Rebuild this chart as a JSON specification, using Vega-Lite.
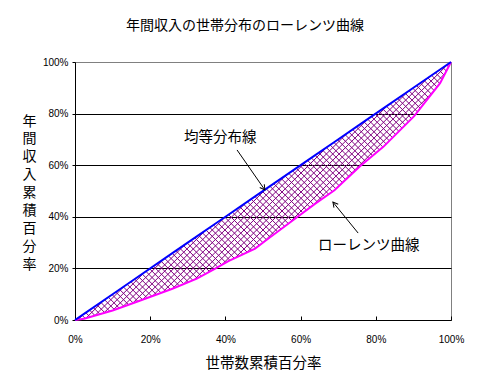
{
"$schema":"https://vega.github.io/schema/vega-lite/v6.json",
"width":376,"height":258,
"autosize":"none",
"padding":{"left":75,"top":62,"right":35,"bottom":64},
"background":"white",
"title":{"text":"年間収入の世帯分布のローレンツ曲線","font":"Noto Sans CJK JP","fontSize":14,"fontWeight":"normal","color":"black","anchor":"middle","offset":24,"dx":-18},
"datasets":{
"lorenz":[
{"hh":0,"lz":0},{"hh":2.4,"lz":0.5},{"hh":10,"lz":3.7},{"hh":16.1,"lz":6.9},{"hh":25.9,"lz":12.1},{"hh":32.4,"lz":16.0},{"hh":37.3,"lz":19.9},{"hh":40.8,"lz":22.8},{"hh":47.9,"lz":27.7},{"hh":51.0,"lz":31.1},{"hh":57.7,"lz":38.4},{"hh":63.9,"lz":45.1},{"hh":69.0,"lz":50.3},{"hh":75.8,"lz":59.6},{"hh":82.0,"lz":67.1},{"hh":90.2,"lz":79.0},{"hh":97.1,"lz":91.8},{"hh":100,"lz":100}],
"labels":[{"x":38.6,"y":70.5,"text":"均等分布線"},{"x":78.1,"y":28.7,"text":"ローレンツ曲線"}],
"arrows":[{"x":43.1,"y":65.9,"x2":50.5,"y2":50.4},{"x":75.3,"y":33.7,"x2":68.6,"y2":45.7}]
},
"layer":[
{"data":{"name":"lorenz"},
"mark":{"type":"area","opacity":1,"fill":{"gradient":"linear","x1":0,"y1":0,"x2":1.146,"y2":0.787,"stops":[
{"offset":0.00,"color":"#80008000"},{"offset":0.0016,"color":"#800080"},{"offset":0.0032,"color":"#80008000"},
{"offset":0.01,"color":"#80008000"},{"offset":0.0116,"color":"#800080"},{"offset":0.0132,"color":"#80008000"},
{"offset":0.02,"color":"#80008000"},{"offset":0.0216,"color":"#800080"},{"offset":0.0232,"color":"#80008000"},
{"offset":0.03,"color":"#80008000"},{"offset":0.0316,"color":"#800080"},{"offset":0.0332,"color":"#80008000"},
{"offset":0.04,"color":"#80008000"},{"offset":0.0416,"color":"#800080"},{"offset":0.0432,"color":"#80008000"},
{"offset":0.05,"color":"#80008000"},{"offset":0.0516,"color":"#800080"},{"offset":0.0532,"color":"#80008000"},
{"offset":0.06,"color":"#80008000"},{"offset":0.0616,"color":"#800080"},{"offset":0.0632,"color":"#80008000"},
{"offset":0.07,"color":"#80008000"},{"offset":0.0716,"color":"#800080"},{"offset":0.0732,"color":"#80008000"},
{"offset":0.08,"color":"#80008000"},{"offset":0.0816,"color":"#800080"},{"offset":0.0832,"color":"#80008000"},
{"offset":0.09,"color":"#80008000"},{"offset":0.0916,"color":"#800080"},{"offset":0.0932,"color":"#80008000"},
{"offset":0.10,"color":"#80008000"},{"offset":0.1016,"color":"#800080"},{"offset":0.1032,"color":"#80008000"},
{"offset":0.11,"color":"#80008000"},{"offset":0.1116,"color":"#800080"},{"offset":0.1132,"color":"#80008000"},
{"offset":0.12,"color":"#80008000"},{"offset":0.1216,"color":"#800080"},{"offset":0.1232,"color":"#80008000"},
{"offset":0.13,"color":"#80008000"},{"offset":0.1316,"color":"#800080"},{"offset":0.1332,"color":"#80008000"},
{"offset":0.14,"color":"#80008000"},{"offset":0.1416,"color":"#800080"},{"offset":0.1432,"color":"#80008000"},
{"offset":0.15,"color":"#80008000"},{"offset":0.1516,"color":"#800080"},{"offset":0.1532,"color":"#80008000"},
{"offset":0.16,"color":"#80008000"},{"offset":0.1616,"color":"#800080"},{"offset":0.1632,"color":"#80008000"},
{"offset":0.17,"color":"#80008000"},{"offset":0.1716,"color":"#800080"},{"offset":0.1732,"color":"#80008000"},
{"offset":0.18,"color":"#80008000"},{"offset":0.1816,"color":"#800080"},{"offset":0.1832,"color":"#80008000"},
{"offset":0.19,"color":"#80008000"},{"offset":0.1916,"color":"#800080"},{"offset":0.1932,"color":"#80008000"},
{"offset":0.20,"color":"#80008000"},{"offset":0.2016,"color":"#800080"},{"offset":0.2032,"color":"#80008000"},
{"offset":0.21,"color":"#80008000"},{"offset":0.2116,"color":"#800080"},{"offset":0.2132,"color":"#80008000"},
{"offset":0.22,"color":"#80008000"},{"offset":0.2216,"color":"#800080"},{"offset":0.2232,"color":"#80008000"},
{"offset":0.23,"color":"#80008000"},{"offset":0.2316,"color":"#800080"},{"offset":0.2332,"color":"#80008000"},
{"offset":0.24,"color":"#80008000"},{"offset":0.2416,"color":"#800080"},{"offset":0.2432,"color":"#80008000"},
{"offset":0.25,"color":"#80008000"},{"offset":0.2516,"color":"#800080"},{"offset":0.2532,"color":"#80008000"},
{"offset":0.26,"color":"#80008000"},{"offset":0.2616,"color":"#800080"},{"offset":0.2632,"color":"#80008000"},
{"offset":0.27,"color":"#80008000"},{"offset":0.2716,"color":"#800080"},{"offset":0.2732,"color":"#80008000"},
{"offset":0.28,"color":"#80008000"},{"offset":0.2816,"color":"#800080"},{"offset":0.2832,"color":"#80008000"},
{"offset":0.29,"color":"#80008000"},{"offset":0.2916,"color":"#800080"},{"offset":0.2932,"color":"#80008000"},
{"offset":0.30,"color":"#80008000"},{"offset":0.3016,"color":"#800080"},{"offset":0.3032,"color":"#80008000"},
{"offset":0.31,"color":"#80008000"},{"offset":0.3116,"color":"#800080"},{"offset":0.3132,"color":"#80008000"},
{"offset":0.32,"color":"#80008000"},{"offset":0.3216,"color":"#800080"},{"offset":0.3232,"color":"#80008000"},
{"offset":0.33,"color":"#80008000"},{"offset":0.3316,"color":"#800080"},{"offset":0.3332,"color":"#80008000"},
{"offset":0.34,"color":"#80008000"},{"offset":0.3416,"color":"#800080"},{"offset":0.3432,"color":"#80008000"},
{"offset":0.35,"color":"#80008000"},{"offset":0.3516,"color":"#800080"},{"offset":0.3532,"color":"#80008000"},
{"offset":0.36,"color":"#80008000"},{"offset":0.3616,"color":"#800080"},{"offset":0.3632,"color":"#80008000"},
{"offset":0.37,"color":"#80008000"},{"offset":0.3716,"color":"#800080"},{"offset":0.3732,"color":"#80008000"},
{"offset":0.38,"color":"#80008000"},{"offset":0.3816,"color":"#800080"},{"offset":0.3832,"color":"#80008000"},
{"offset":0.39,"color":"#80008000"},{"offset":0.3916,"color":"#800080"},{"offset":0.3932,"color":"#80008000"},
{"offset":0.40,"color":"#80008000"},{"offset":0.4016,"color":"#800080"},{"offset":0.4032,"color":"#80008000"},
{"offset":0.41,"color":"#80008000"},{"offset":0.4116,"color":"#800080"},{"offset":0.4132,"color":"#80008000"},
{"offset":0.42,"color":"#80008000"},{"offset":0.4216,"color":"#800080"},{"offset":0.4232,"color":"#80008000"},
{"offset":0.43,"color":"#80008000"},{"offset":0.4316,"color":"#800080"},{"offset":0.4332,"color":"#80008000"},
{"offset":0.44,"color":"#80008000"},{"offset":0.4416,"color":"#800080"},{"offset":0.4432,"color":"#80008000"},
{"offset":0.45,"color":"#80008000"},{"offset":0.4516,"color":"#800080"},{"offset":0.4532,"color":"#80008000"},
{"offset":0.46,"color":"#80008000"},{"offset":0.4616,"color":"#800080"},{"offset":0.4632,"color":"#80008000"},
{"offset":0.47,"color":"#80008000"},{"offset":0.4716,"color":"#800080"},{"offset":0.4732,"color":"#80008000"},
{"offset":0.48,"color":"#80008000"},{"offset":0.4816,"color":"#800080"},{"offset":0.4832,"color":"#80008000"},
{"offset":0.49,"color":"#80008000"},{"offset":0.4916,"color":"#800080"},{"offset":0.4932,"color":"#80008000"},
{"offset":0.50,"color":"#80008000"},{"offset":0.5016,"color":"#800080"},{"offset":0.5032,"color":"#80008000"},
{"offset":0.51,"color":"#80008000"},{"offset":0.5116,"color":"#800080"},{"offset":0.5132,"color":"#80008000"},
{"offset":0.52,"color":"#80008000"},{"offset":0.5216,"color":"#800080"},{"offset":0.5232,"color":"#80008000"},
{"offset":0.53,"color":"#80008000"},{"offset":0.5316,"color":"#800080"},{"offset":0.5332,"color":"#80008000"},
{"offset":0.54,"color":"#80008000"},{"offset":0.5416,"color":"#800080"},{"offset":0.5432,"color":"#80008000"},
{"offset":0.55,"color":"#80008000"},{"offset":0.5516,"color":"#800080"},{"offset":0.5532,"color":"#80008000"},
{"offset":0.56,"color":"#80008000"},{"offset":0.5616,"color":"#800080"},{"offset":0.5632,"color":"#80008000"},
{"offset":0.57,"color":"#80008000"},{"offset":0.5716,"color":"#800080"},{"offset":0.5732,"color":"#80008000"},
{"offset":0.58,"color":"#80008000"},{"offset":0.5816,"color":"#800080"},{"offset":0.5832,"color":"#80008000"},
{"offset":0.59,"color":"#80008000"},{"offset":0.5916,"color":"#800080"},{"offset":0.5932,"color":"#80008000"},
{"offset":0.60,"color":"#80008000"},{"offset":0.6016,"color":"#800080"},{"offset":0.6032,"color":"#80008000"},
{"offset":0.61,"color":"#80008000"},{"offset":0.6116,"color":"#800080"},{"offset":0.6132,"color":"#80008000"},
{"offset":0.62,"color":"#80008000"},{"offset":0.6216,"color":"#800080"},{"offset":0.6232,"color":"#80008000"},
{"offset":0.63,"color":"#80008000"},{"offset":0.6316,"color":"#800080"},{"offset":0.6332,"color":"#80008000"},
{"offset":0.64,"color":"#80008000"},{"offset":0.6416,"color":"#800080"},{"offset":0.6432,"color":"#80008000"},
{"offset":0.65,"color":"#80008000"},{"offset":0.6516,"color":"#800080"},{"offset":0.6532,"color":"#80008000"},
{"offset":0.66,"color":"#80008000"},{"offset":0.6616,"color":"#800080"},{"offset":0.6632,"color":"#80008000"},
{"offset":0.67,"color":"#80008000"},{"offset":0.6716,"color":"#800080"},{"offset":0.6732,"color":"#80008000"},
{"offset":0.68,"color":"#80008000"},{"offset":0.6816,"color":"#800080"},{"offset":0.6832,"color":"#80008000"},
{"offset":0.69,"color":"#80008000"},{"offset":0.6916,"color":"#800080"},{"offset":0.6932,"color":"#80008000"},
{"offset":0.70,"color":"#80008000"},{"offset":0.7016,"color":"#800080"},{"offset":0.7032,"color":"#80008000"},
{"offset":0.71,"color":"#80008000"},{"offset":0.7116,"color":"#800080"},{"offset":0.7132,"color":"#80008000"},
{"offset":0.72,"color":"#80008000"},{"offset":0.7216,"color":"#800080"},{"offset":0.7232,"color":"#80008000"},
{"offset":0.73,"color":"#80008000"},{"offset":0.7316,"color":"#800080"},{"offset":0.7332,"color":"#80008000"},
{"offset":0.74,"color":"#80008000"},{"offset":0.7416,"color":"#800080"},{"offset":0.7432,"color":"#80008000"},
{"offset":0.75,"color":"#80008000"},{"offset":0.7516,"color":"#800080"},{"offset":0.7532,"color":"#80008000"},
{"offset":0.76,"color":"#80008000"},{"offset":0.7616,"color":"#800080"},{"offset":0.7632,"color":"#80008000"},
{"offset":0.77,"color":"#80008000"},{"offset":0.7716,"color":"#800080"},{"offset":0.7732,"color":"#80008000"},
{"offset":0.78,"color":"#80008000"},{"offset":0.7816,"color":"#800080"},{"offset":0.7832,"color":"#80008000"},
{"offset":0.79,"color":"#80008000"},{"offset":0.7916,"color":"#800080"},{"offset":0.7932,"color":"#80008000"},
{"offset":0.80,"color":"#80008000"},{"offset":0.8016,"color":"#800080"},{"offset":0.8032,"color":"#80008000"},
{"offset":0.81,"color":"#80008000"},{"offset":0.8116,"color":"#800080"},{"offset":0.8132,"color":"#80008000"},
{"offset":0.82,"color":"#80008000"},{"offset":0.8216,"color":"#800080"},{"offset":0.8232,"color":"#80008000"},
{"offset":0.83,"color":"#80008000"},{"offset":0.8316,"color":"#800080"},{"offset":0.8332,"color":"#80008000"},
{"offset":0.84,"color":"#80008000"},{"offset":0.8416,"color":"#800080"},{"offset":0.8432,"color":"#80008000"},
{"offset":0.85,"color":"#80008000"},{"offset":0.8516,"color":"#800080"},{"offset":0.8532,"color":"#80008000"},
{"offset":0.86,"color":"#80008000"},{"offset":0.8616,"color":"#800080"},{"offset":0.8632,"color":"#80008000"},
{"offset":0.87,"color":"#80008000"},{"offset":0.8716,"color":"#800080"},{"offset":0.8732,"color":"#80008000"},
{"offset":0.88,"color":"#80008000"},{"offset":0.8816,"color":"#800080"},{"offset":0.8832,"color":"#80008000"},
{"offset":0.89,"color":"#80008000"},{"offset":0.8916,"color":"#800080"},{"offset":0.8932,"color":"#80008000"},
{"offset":0.90,"color":"#80008000"},{"offset":0.9016,"color":"#800080"},{"offset":0.9032,"color":"#80008000"},
{"offset":0.91,"color":"#80008000"},{"offset":0.9116,"color":"#800080"},{"offset":0.9132,"color":"#80008000"},
{"offset":0.92,"color":"#80008000"},{"offset":0.9216,"color":"#800080"},{"offset":0.9232,"color":"#80008000"},
{"offset":0.93,"color":"#80008000"},{"offset":0.9316,"color":"#800080"},{"offset":0.9332,"color":"#80008000"},
{"offset":0.94,"color":"#80008000"},{"offset":0.9416,"color":"#800080"},{"offset":0.9432,"color":"#80008000"},
{"offset":0.95,"color":"#80008000"},{"offset":0.9516,"color":"#800080"},{"offset":0.9532,"color":"#80008000"},
{"offset":0.96,"color":"#80008000"},{"offset":0.9616,"color":"#800080"},{"offset":0.9632,"color":"#80008000"},
{"offset":0.97,"color":"#80008000"},{"offset":0.9716,"color":"#800080"},{"offset":0.9732,"color":"#80008000"},
{"offset":0.98,"color":"#80008000"},{"offset":0.9816,"color":"#800080"},{"offset":0.9832,"color":"#80008000"},
{"offset":0.99,"color":"#80008000"},{"offset":0.9916,"color":"#800080"},{"offset":0.9932,"color":"#80008000"}]}},
"encoding":{
"x":{"field":"hh","type":"quantitative","scale":{"domain":[0,100],"nice":false},
"axis":{"title":"世帯数累積百分率","values":[0,20,40,60,80,100],"labelExpr":"datum.value + '%'","grid":false,"domainColor":"black","tickColor":"black","tickSize":-4,"labelPadding":18,"labelFont":"Liberation Sans","labelFontSize":10,"labelColor":"black","labelFlush":false,"titleFont":"Noto Sans CJK JP","titleFontSize":14.5,"titleFontWeight":"normal","titleColor":"black","titleBaseline":"alphabetic","titleY":47}},
"y":{"field":"hh","type":"quantitative","scale":{"domain":[0,100],"nice":false},
"axis":{"title":["年","間","収","入","累","積","百","分","率"],"titleAngle":0,"titleX":-46,"titleY":63,"titleAlign":"center","titleBaseline":"alphabetic","titleLineHeight":17.9,"titleFont":"Noto Sans CJK JP","titleFontSize":14,"titleFontWeight":"normal","titleColor":"black","values":[0,20,40,60,80,100],"labelExpr":"datum.value + '%'","grid":true,"gridColor":{"condition":{"test":"datum.value === 100 || datum.value === 0","value":"transparent"},"value":"black"},"gridOpacity":1,"domainColor":"black","tickColor":"black","tickSize":3,"labelPadding":4,"labelFont":"Liberation Sans","labelFontSize":10,"labelColor":"black","labelFlush":false}},
"y2":{"field":"lz"}}},
{"data":{"name":"lorenz"},
"mark":{"type":"area","opacity":1,"fill":{"gradient":"linear","x1":1,"y1":0,"x2":-0.146,"y2":0.787,"stops":[
{"offset":0.00,"color":"#80008000"},{"offset":0.0016,"color":"#800080"},{"offset":0.0032,"color":"#80008000"},
{"offset":0.01,"color":"#80008000"},{"offset":0.0116,"color":"#800080"},{"offset":0.0132,"color":"#80008000"},
{"offset":0.02,"color":"#80008000"},{"offset":0.0216,"color":"#800080"},{"offset":0.0232,"color":"#80008000"},
{"offset":0.03,"color":"#80008000"},{"offset":0.0316,"color":"#800080"},{"offset":0.0332,"color":"#80008000"},
{"offset":0.04,"color":"#80008000"},{"offset":0.0416,"color":"#800080"},{"offset":0.0432,"color":"#80008000"},
{"offset":0.05,"color":"#80008000"},{"offset":0.0516,"color":"#800080"},{"offset":0.0532,"color":"#80008000"},
{"offset":0.06,"color":"#80008000"},{"offset":0.0616,"color":"#800080"},{"offset":0.0632,"color":"#80008000"},
{"offset":0.07,"color":"#80008000"},{"offset":0.0716,"color":"#800080"},{"offset":0.0732,"color":"#80008000"},
{"offset":0.08,"color":"#80008000"},{"offset":0.0816,"color":"#800080"},{"offset":0.0832,"color":"#80008000"},
{"offset":0.09,"color":"#80008000"},{"offset":0.0916,"color":"#800080"},{"offset":0.0932,"color":"#80008000"},
{"offset":0.10,"color":"#80008000"},{"offset":0.1016,"color":"#800080"},{"offset":0.1032,"color":"#80008000"},
{"offset":0.11,"color":"#80008000"},{"offset":0.1116,"color":"#800080"},{"offset":0.1132,"color":"#80008000"},
{"offset":0.12,"color":"#80008000"},{"offset":0.1216,"color":"#800080"},{"offset":0.1232,"color":"#80008000"},
{"offset":0.13,"color":"#80008000"},{"offset":0.1316,"color":"#800080"},{"offset":0.1332,"color":"#80008000"},
{"offset":0.14,"color":"#80008000"},{"offset":0.1416,"color":"#800080"},{"offset":0.1432,"color":"#80008000"},
{"offset":0.15,"color":"#80008000"},{"offset":0.1516,"color":"#800080"},{"offset":0.1532,"color":"#80008000"},
{"offset":0.16,"color":"#80008000"},{"offset":0.1616,"color":"#800080"},{"offset":0.1632,"color":"#80008000"},
{"offset":0.17,"color":"#80008000"},{"offset":0.1716,"color":"#800080"},{"offset":0.1732,"color":"#80008000"},
{"offset":0.18,"color":"#80008000"},{"offset":0.1816,"color":"#800080"},{"offset":0.1832,"color":"#80008000"},
{"offset":0.19,"color":"#80008000"},{"offset":0.1916,"color":"#800080"},{"offset":0.1932,"color":"#80008000"},
{"offset":0.20,"color":"#80008000"},{"offset":0.2016,"color":"#800080"},{"offset":0.2032,"color":"#80008000"},
{"offset":0.21,"color":"#80008000"},{"offset":0.2116,"color":"#800080"},{"offset":0.2132,"color":"#80008000"},
{"offset":0.22,"color":"#80008000"},{"offset":0.2216,"color":"#800080"},{"offset":0.2232,"color":"#80008000"},
{"offset":0.23,"color":"#80008000"},{"offset":0.2316,"color":"#800080"},{"offset":0.2332,"color":"#80008000"},
{"offset":0.24,"color":"#80008000"},{"offset":0.2416,"color":"#800080"},{"offset":0.2432,"color":"#80008000"},
{"offset":0.25,"color":"#80008000"},{"offset":0.2516,"color":"#800080"},{"offset":0.2532,"color":"#80008000"},
{"offset":0.26,"color":"#80008000"},{"offset":0.2616,"color":"#800080"},{"offset":0.2632,"color":"#80008000"},
{"offset":0.27,"color":"#80008000"},{"offset":0.2716,"color":"#800080"},{"offset":0.2732,"color":"#80008000"},
{"offset":0.28,"color":"#80008000"},{"offset":0.2816,"color":"#800080"},{"offset":0.2832,"color":"#80008000"},
{"offset":0.29,"color":"#80008000"},{"offset":0.2916,"color":"#800080"},{"offset":0.2932,"color":"#80008000"},
{"offset":0.30,"color":"#80008000"},{"offset":0.3016,"color":"#800080"},{"offset":0.3032,"color":"#80008000"},
{"offset":0.31,"color":"#80008000"},{"offset":0.3116,"color":"#800080"},{"offset":0.3132,"color":"#80008000"},
{"offset":0.32,"color":"#80008000"},{"offset":0.3216,"color":"#800080"},{"offset":0.3232,"color":"#80008000"},
{"offset":0.33,"color":"#80008000"},{"offset":0.3316,"color":"#800080"},{"offset":0.3332,"color":"#80008000"},
{"offset":0.34,"color":"#80008000"},{"offset":0.3416,"color":"#800080"},{"offset":0.3432,"color":"#80008000"},
{"offset":0.35,"color":"#80008000"},{"offset":0.3516,"color":"#800080"},{"offset":0.3532,"color":"#80008000"},
{"offset":0.36,"color":"#80008000"},{"offset":0.3616,"color":"#800080"},{"offset":0.3632,"color":"#80008000"},
{"offset":0.37,"color":"#80008000"},{"offset":0.3716,"color":"#800080"},{"offset":0.3732,"color":"#80008000"},
{"offset":0.38,"color":"#80008000"},{"offset":0.3816,"color":"#800080"},{"offset":0.3832,"color":"#80008000"},
{"offset":0.39,"color":"#80008000"},{"offset":0.3916,"color":"#800080"},{"offset":0.3932,"color":"#80008000"},
{"offset":0.40,"color":"#80008000"},{"offset":0.4016,"color":"#800080"},{"offset":0.4032,"color":"#80008000"},
{"offset":0.41,"color":"#80008000"},{"offset":0.4116,"color":"#800080"},{"offset":0.4132,"color":"#80008000"},
{"offset":0.42,"color":"#80008000"},{"offset":0.4216,"color":"#800080"},{"offset":0.4232,"color":"#80008000"},
{"offset":0.43,"color":"#80008000"},{"offset":0.4316,"color":"#800080"},{"offset":0.4332,"color":"#80008000"},
{"offset":0.44,"color":"#80008000"},{"offset":0.4416,"color":"#800080"},{"offset":0.4432,"color":"#80008000"},
{"offset":0.45,"color":"#80008000"},{"offset":0.4516,"color":"#800080"},{"offset":0.4532,"color":"#80008000"},
{"offset":0.46,"color":"#80008000"},{"offset":0.4616,"color":"#800080"},{"offset":0.4632,"color":"#80008000"},
{"offset":0.47,"color":"#80008000"},{"offset":0.4716,"color":"#800080"},{"offset":0.4732,"color":"#80008000"},
{"offset":0.48,"color":"#80008000"},{"offset":0.4816,"color":"#800080"},{"offset":0.4832,"color":"#80008000"},
{"offset":0.49,"color":"#80008000"},{"offset":0.4916,"color":"#800080"},{"offset":0.4932,"color":"#80008000"},
{"offset":0.50,"color":"#80008000"},{"offset":0.5016,"color":"#800080"},{"offset":0.5032,"color":"#80008000"},
{"offset":0.51,"color":"#80008000"},{"offset":0.5116,"color":"#800080"},{"offset":0.5132,"color":"#80008000"},
{"offset":0.52,"color":"#80008000"},{"offset":0.5216,"color":"#800080"},{"offset":0.5232,"color":"#80008000"},
{"offset":0.53,"color":"#80008000"},{"offset":0.5316,"color":"#800080"},{"offset":0.5332,"color":"#80008000"},
{"offset":0.54,"color":"#80008000"},{"offset":0.5416,"color":"#800080"},{"offset":0.5432,"color":"#80008000"},
{"offset":0.55,"color":"#80008000"},{"offset":0.5516,"color":"#800080"},{"offset":0.5532,"color":"#80008000"},
{"offset":0.56,"color":"#80008000"},{"offset":0.5616,"color":"#800080"},{"offset":0.5632,"color":"#80008000"},
{"offset":0.57,"color":"#80008000"},{"offset":0.5716,"color":"#800080"},{"offset":0.5732,"color":"#80008000"},
{"offset":0.58,"color":"#80008000"},{"offset":0.5816,"color":"#800080"},{"offset":0.5832,"color":"#80008000"},
{"offset":0.59,"color":"#80008000"},{"offset":0.5916,"color":"#800080"},{"offset":0.5932,"color":"#80008000"},
{"offset":0.60,"color":"#80008000"},{"offset":0.6016,"color":"#800080"},{"offset":0.6032,"color":"#80008000"},
{"offset":0.61,"color":"#80008000"},{"offset":0.6116,"color":"#800080"},{"offset":0.6132,"color":"#80008000"},
{"offset":0.62,"color":"#80008000"},{"offset":0.6216,"color":"#800080"},{"offset":0.6232,"color":"#80008000"},
{"offset":0.63,"color":"#80008000"},{"offset":0.6316,"color":"#800080"},{"offset":0.6332,"color":"#80008000"},
{"offset":0.64,"color":"#80008000"},{"offset":0.6416,"color":"#800080"},{"offset":0.6432,"color":"#80008000"},
{"offset":0.65,"color":"#80008000"},{"offset":0.6516,"color":"#800080"},{"offset":0.6532,"color":"#80008000"},
{"offset":0.66,"color":"#80008000"},{"offset":0.6616,"color":"#800080"},{"offset":0.6632,"color":"#80008000"},
{"offset":0.67,"color":"#80008000"},{"offset":0.6716,"color":"#800080"},{"offset":0.6732,"color":"#80008000"},
{"offset":0.68,"color":"#80008000"},{"offset":0.6816,"color":"#800080"},{"offset":0.6832,"color":"#80008000"},
{"offset":0.69,"color":"#80008000"},{"offset":0.6916,"color":"#800080"},{"offset":0.6932,"color":"#80008000"},
{"offset":0.70,"color":"#80008000"},{"offset":0.7016,"color":"#800080"},{"offset":0.7032,"color":"#80008000"},
{"offset":0.71,"color":"#80008000"},{"offset":0.7116,"color":"#800080"},{"offset":0.7132,"color":"#80008000"},
{"offset":0.72,"color":"#80008000"},{"offset":0.7216,"color":"#800080"},{"offset":0.7232,"color":"#80008000"},
{"offset":0.73,"color":"#80008000"},{"offset":0.7316,"color":"#800080"},{"offset":0.7332,"color":"#80008000"},
{"offset":0.74,"color":"#80008000"},{"offset":0.7416,"color":"#800080"},{"offset":0.7432,"color":"#80008000"},
{"offset":0.75,"color":"#80008000"},{"offset":0.7516,"color":"#800080"},{"offset":0.7532,"color":"#80008000"},
{"offset":0.76,"color":"#80008000"},{"offset":0.7616,"color":"#800080"},{"offset":0.7632,"color":"#80008000"},
{"offset":0.77,"color":"#80008000"},{"offset":0.7716,"color":"#800080"},{"offset":0.7732,"color":"#80008000"},
{"offset":0.78,"color":"#80008000"},{"offset":0.7816,"color":"#800080"},{"offset":0.7832,"color":"#80008000"},
{"offset":0.79,"color":"#80008000"},{"offset":0.7916,"color":"#800080"},{"offset":0.7932,"color":"#80008000"},
{"offset":0.80,"color":"#80008000"},{"offset":0.8016,"color":"#800080"},{"offset":0.8032,"color":"#80008000"},
{"offset":0.81,"color":"#80008000"},{"offset":0.8116,"color":"#800080"},{"offset":0.8132,"color":"#80008000"},
{"offset":0.82,"color":"#80008000"},{"offset":0.8216,"color":"#800080"},{"offset":0.8232,"color":"#80008000"},
{"offset":0.83,"color":"#80008000"},{"offset":0.8316,"color":"#800080"},{"offset":0.8332,"color":"#80008000"},
{"offset":0.84,"color":"#80008000"},{"offset":0.8416,"color":"#800080"},{"offset":0.8432,"color":"#80008000"},
{"offset":0.85,"color":"#80008000"},{"offset":0.8516,"color":"#800080"},{"offset":0.8532,"color":"#80008000"},
{"offset":0.86,"color":"#80008000"},{"offset":0.8616,"color":"#800080"},{"offset":0.8632,"color":"#80008000"},
{"offset":0.87,"color":"#80008000"},{"offset":0.8716,"color":"#800080"},{"offset":0.8732,"color":"#80008000"},
{"offset":0.88,"color":"#80008000"},{"offset":0.8816,"color":"#800080"},{"offset":0.8832,"color":"#80008000"},
{"offset":0.89,"color":"#80008000"},{"offset":0.8916,"color":"#800080"},{"offset":0.8932,"color":"#80008000"},
{"offset":0.90,"color":"#80008000"},{"offset":0.9016,"color":"#800080"},{"offset":0.9032,"color":"#80008000"},
{"offset":0.91,"color":"#80008000"},{"offset":0.9116,"color":"#800080"},{"offset":0.9132,"color":"#80008000"},
{"offset":0.92,"color":"#80008000"},{"offset":0.9216,"color":"#800080"},{"offset":0.9232,"color":"#80008000"},
{"offset":0.93,"color":"#80008000"},{"offset":0.9316,"color":"#800080"},{"offset":0.9332,"color":"#80008000"},
{"offset":0.94,"color":"#80008000"},{"offset":0.9416,"color":"#800080"},{"offset":0.9432,"color":"#80008000"},
{"offset":0.95,"color":"#80008000"},{"offset":0.9516,"color":"#800080"},{"offset":0.9532,"color":"#80008000"},
{"offset":0.96,"color":"#80008000"},{"offset":0.9616,"color":"#800080"},{"offset":0.9632,"color":"#80008000"},
{"offset":0.97,"color":"#80008000"},{"offset":0.9716,"color":"#800080"},{"offset":0.9732,"color":"#80008000"},
{"offset":0.98,"color":"#80008000"},{"offset":0.9816,"color":"#800080"},{"offset":0.9832,"color":"#80008000"},
{"offset":0.99,"color":"#80008000"},{"offset":0.9916,"color":"#800080"},{"offset":0.9932,"color":"#80008000"}]}},
"encoding":{"x":{"field":"hh","type":"quantitative"},"y":{"field":"hh","type":"quantitative"},"y2":{"field":"lz"}}},
{"data":{"name":"lorenz"},"mark":{"type":"line","color":"#FF00FF","strokeWidth":2},
"encoding":{"x":{"field":"hh","type":"quantitative"},"y":{"field":"lz","type":"quantitative"}}},
{"data":{"name":"lorenz"},"mark":{"type":"line","color":"#0000FF","strokeWidth":2},
"encoding":{"x":{"field":"hh","type":"quantitative"},"y":{"field":"hh","type":"quantitative"}}},
{"data":{"name":"arrows"},"mark":{"type":"rule","color":"black","strokeWidth":1},
"encoding":{"x":{"field":"x","type":"quantitative"},"y":{"field":"y","type":"quantitative"},"x2":{"field":"x2"},"y2":{"field":"y2"}}},
{"data":{"name":"arrows"},
"transform":[{"calculate":"atan2((datum.x2-datum.x)*3.76,(datum.y2-datum.y)*2.58)*180/PI","as":"ang"}],
"mark":{"type":"point","shape":"M-0.55,1L0,0L0.55,1","filled":false,"stroke":"black","strokeWidth":1,"size":100,"opacity":1},
"encoding":{"x":{"field":"x2","type":"quantitative"},"y":{"field":"y2","type":"quantitative"},"angle":{"field":"ang","type":"quantitative","scale":null}}},
{"data":{"name":"labels"},"mark":{"type":"text","font":"Noto Sans CJK JP","fontSize":14.5,"color":"black","align":"center","baseline":"middle"},
"encoding":{"x":{"field":"x","type":"quantitative"},"y":{"field":"y","type":"quantitative"},"text":{"field":"text"}}}
],
"config":{"view":{"stroke":"#808080","strokeWidth":1}}
}
